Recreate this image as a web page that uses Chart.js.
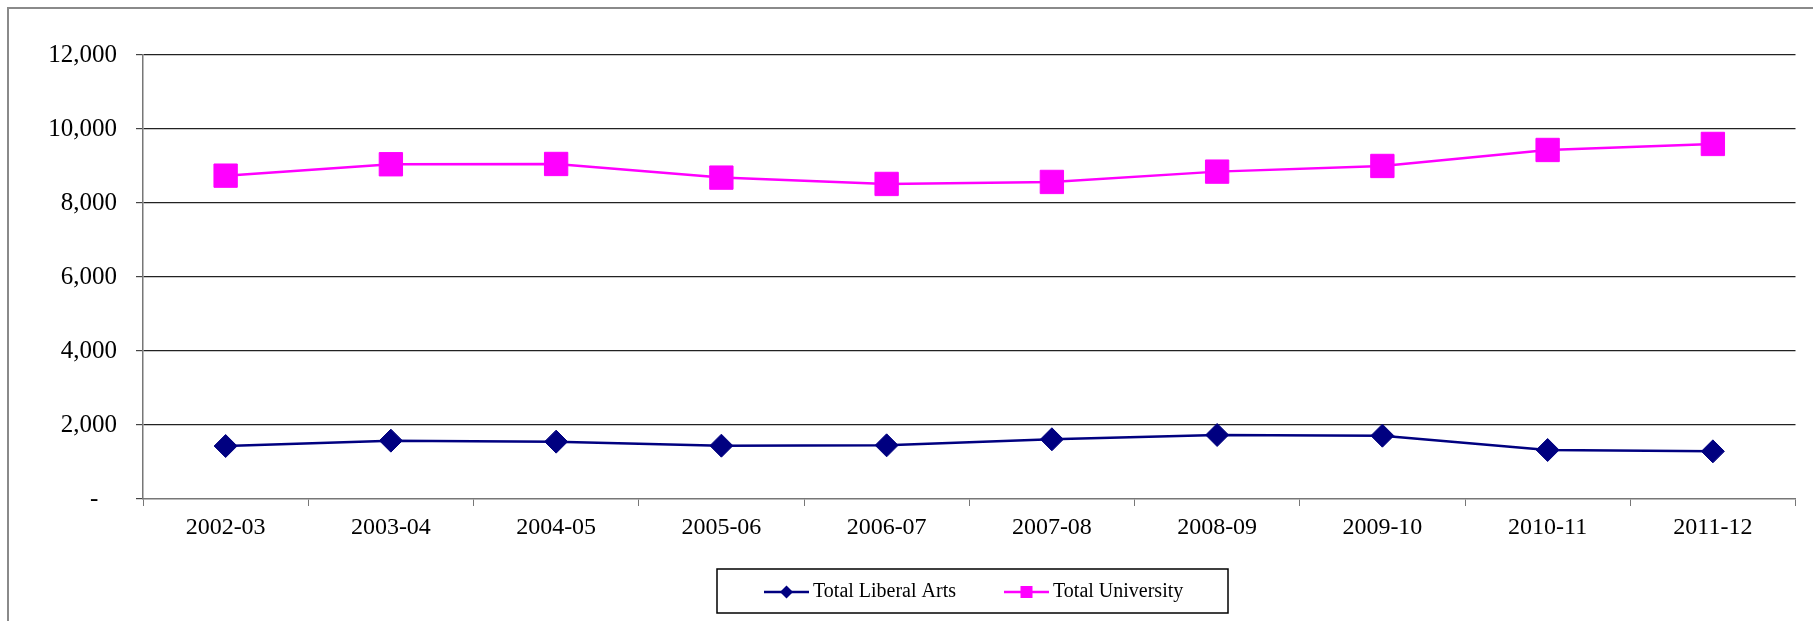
<!DOCTYPE html>
<html>
<head>
<meta charset="utf-8">
<script src="https://cdn.jsdelivr.net/npm/chart.js@4"></script>
<style>
  body { margin: 0; background: #fff; overflow: hidden; }
  #wrap { position: relative; width: 1813px; height: 621px; }
  #frame { position: absolute; left: 7px; top: 7px; width: 1900px; height: 700px;
           border-left: 2px solid #8a8a8a; border-top: 2px solid #8a8a8a; }
  canvas { position: absolute; left: 0; top: 0; }
</style>
</head>
<body>
<div id="wrap">
  <div id="frame"></div>
  <canvas id="myChart" width="1813" height="621"></canvas>
</div>
<script>
var years = ["2002-03", "2003-04", "2004-05", "2005-06", "2006-07", "2007-08", "2008-09", "2009-10", "2010-11", "2011-12"];
var liberalArts = [1432, 1577, 1550, 1441, 1451, 1614, 1730, 1711, 1324, 1288];
var university = [8739, 9047, 9055, 8686, 8515, 8569, 8848, 9001, 9433, 9596];
var yMax = 12000;
var yStep = 2000;

var serif = "'Liberation Serif', 'Times New Roman', serif";

// legend drawn by hand: line sample with marker, then label, inside a box
var boxLegend = {
  id: 'boxLegend',
  afterDraw: function(chart) {
    var ctx = chart.ctx;
    var left = 717, top = 569, w = 511, h = 44;
    var cy = top + h / 2 + 1;
    ctx.save();
    ctx.strokeStyle = '#000';
    ctx.lineWidth = 1.5;
    ctx.strokeRect(left, top, w, h);
    ctx.font = '20px ' + serif;
    ctx.textBaseline = 'middle';
    var x = 764;
    chart.data.datasets.forEach(function(ds, i) {
      ctx.strokeStyle = ds.borderColor;
      ctx.lineWidth = 2.5;
      ctx.beginPath();
      ctx.moveTo(x, cy);
      ctx.lineTo(x + 45, cy);
      ctx.stroke();
      ctx.fillStyle = ds.borderColor;
      var mx = x + 22.5;
      ctx.beginPath();
      if (ds.pointStyle === 'rectRot') {
        ctx.moveTo(mx, cy - 6.5);
        ctx.lineTo(mx + 6.5, cy);
        ctx.lineTo(mx, cy + 6.5);
        ctx.lineTo(mx - 6.5, cy);
      } else {
        ctx.rect(mx - 6, cy - 6, 12, 12);
      }
      ctx.fill();
      ctx.fillStyle = '#000';
      ctx.fillText(ds.label, x + 49, cy);
      x = x + 49 + ctx.measureText(ds.label).width + 48;
    });
    ctx.restore();
  }
};

var ctx = document.getElementById("myChart");
var myChart = new Chart(ctx, {
  type: 'line',
  data: {
    labels: years,
    datasets: [{
      label: 'Total Liberal Arts',
      data: liberalArts,
      borderColor: '#000080',
      backgroundColor: '#000080',
      borderWidth: 2.5,
      pointStyle: 'rectRot',
      pointRadius: 11.5,
      pointBorderWidth: 1,
      pointBorderColor: '#000080',
      pointBackgroundColor: '#000080',
      tension: 0
    }, {
      label: 'Total University',
      data: university,
      borderColor: '#FF00FF',
      backgroundColor: '#FF00FF',
      borderWidth: 2.5,
      pointStyle: 'rect',
      pointRadius: 16.5,
      pointBorderWidth: 1,
      pointBorderColor: '#FF00FF',
      pointBackgroundColor: '#FF00FF',
      tension: 0
    }]
  },
  options: {
    responsive: false,
    animation: false,
    devicePixelRatio: 1,
    layout: { padding: { top: 55, right: 14, bottom: 0, left: 0 } },
    scales: {
      x: {
        offset: true,
        grid: {
          offset: true,
          drawOnChartArea: false,
          drawTicks: true,
          tickLength: 7,
          tickColor: '#777'
        },
        border: { color: '#777', width: 1.5 },
        ticks: {
          color: '#000',
          font: { family: serif, size: 24 },
          padding: 7,
          maxRotation: 0
        },
        afterFit: function(scale) { scale.height = 122; }
      },
      y: {
        min: 0,
        max: yMax,
        ticks: {
          stepSize: yStep,
          color: '#000',
          font: { family: serif, size: 25 },
          padding: 19,
          callback: function(v) { return v === 0 ? '-   ' : v.toLocaleString('en-US'); }
        },
        grid: {
          color: function(c) { return c.tick && c.tick.value === 0 ? 'rgba(0,0,0,0)' : '#222'; },
          lineWidth: 1.2,
          tickLength: 7,
          tickColor: '#444'
        },
        border: { color: '#777', width: 1.5 },
        afterFit: function(scale) { scale.width = 143; }
      }
    },
    plugins: {
      legend: { display: false },
      tooltip: { enabled: false }
    }
  },
  plugins: [boxLegend]
});
</script>
</body>
</html>
